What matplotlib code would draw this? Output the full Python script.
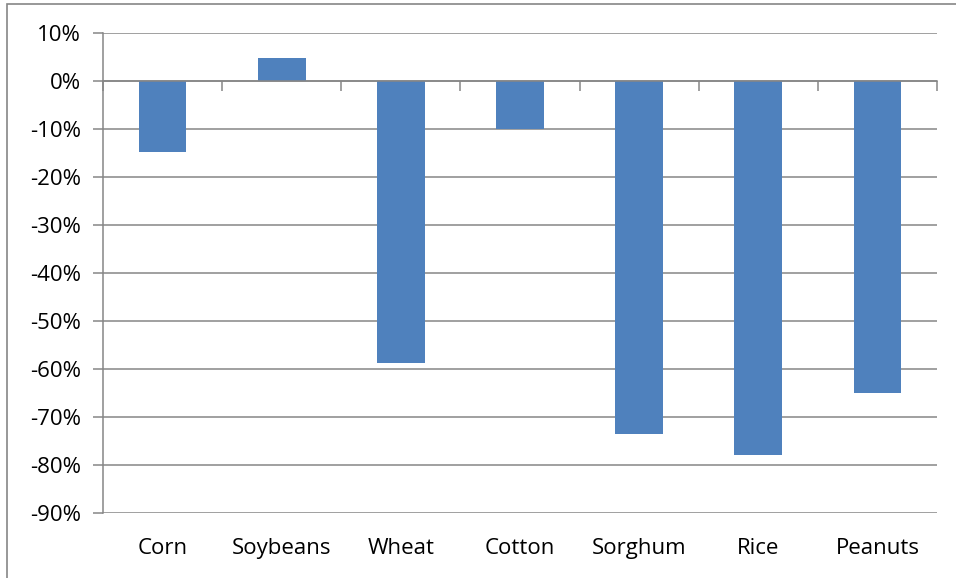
import numpy as np
import matplotlib
matplotlib.use("Agg")
import matplotlib.pyplot as plt
from matplotlib.ticker import FuncFormatter, FixedLocator
from matplotlib.patches import Rectangle

crops = ["Corn", "Soybeans", "Wheat", "Cotton", "Sorghum", "Rice", "Peanuts"]
change_pct = [-14.8, 4.8, -58.7, -10.1, -73.5, -78.0, -65.1]

y_ticks = np.arange(-90, 11, 10)

plt.rcParams["font.family"] = ["Open Sans", "DejaVu Sans"]

fig = plt.figure(figsize=(9.56, 5.78), dpi=100)
ax = fig.add_axes([103 / 956, 1 - 513 / 578, (937 - 103) / 956, (513 - 33) / 578])

# chart-area frame (only the left/top edges fall inside the picture)
fig.patches.append(Rectangle((7 / 956, -0.1), 1.2, 1 - 4 / 578 + 0.1,
                             transform=fig.transFigure, fill=False,
                             edgecolor="#868686", linewidth=1.2))

x = np.arange(len(crops))
ax.bar(x, change_pct, width=0.4, color="#4F81BD", zorder=3)

grid_c = "#868686"
ax.set_ylim(-90, 10)
ax.set_xlim(-0.5, len(crops) - 0.5)
ax.set_yticks(y_ticks)
ax.yaxis.set_major_formatter(FuncFormatter(lambda v, p: f"{v:.0f}%"))
ax.grid(axis="y", color=grid_c, linewidth=1.1, zorder=0)
ax.tick_params(axis="y", direction="out", length=7, width=1.1, color=grid_c,
               pad=9, labelsize=16)

for side in ["top", "right"]:
    ax.spines[side].set_visible(False)
ax.spines["left"].set_color(grid_c)
ax.spines["left"].set_linewidth(1.1)

# category axis crosses at 0%, tick marks between categories
ax.spines["bottom"].set_position(("data", 0))
ax.spines["bottom"].set_color(grid_c)
ax.spines["bottom"].set_linewidth(1.1)
ax.spines["bottom"].set_zorder(4)
ax.xaxis.set_major_locator(FixedLocator(np.arange(len(crops) + 1) - 0.5))
ax.tick_params(axis="x", direction="out", length=7, width=1.1, color=grid_c,
               labelbottom=False)

# category labels sit below the plot area
sec = ax.secondary_xaxis("bottom")
sec.set_xticks(x)
sec.set_xticklabels(crops)
sec.spines["bottom"].set_visible(False)
sec.tick_params(axis="x", length=0, pad=18, labelsize=16)

fig.savefig("out.png", dpi=100)
